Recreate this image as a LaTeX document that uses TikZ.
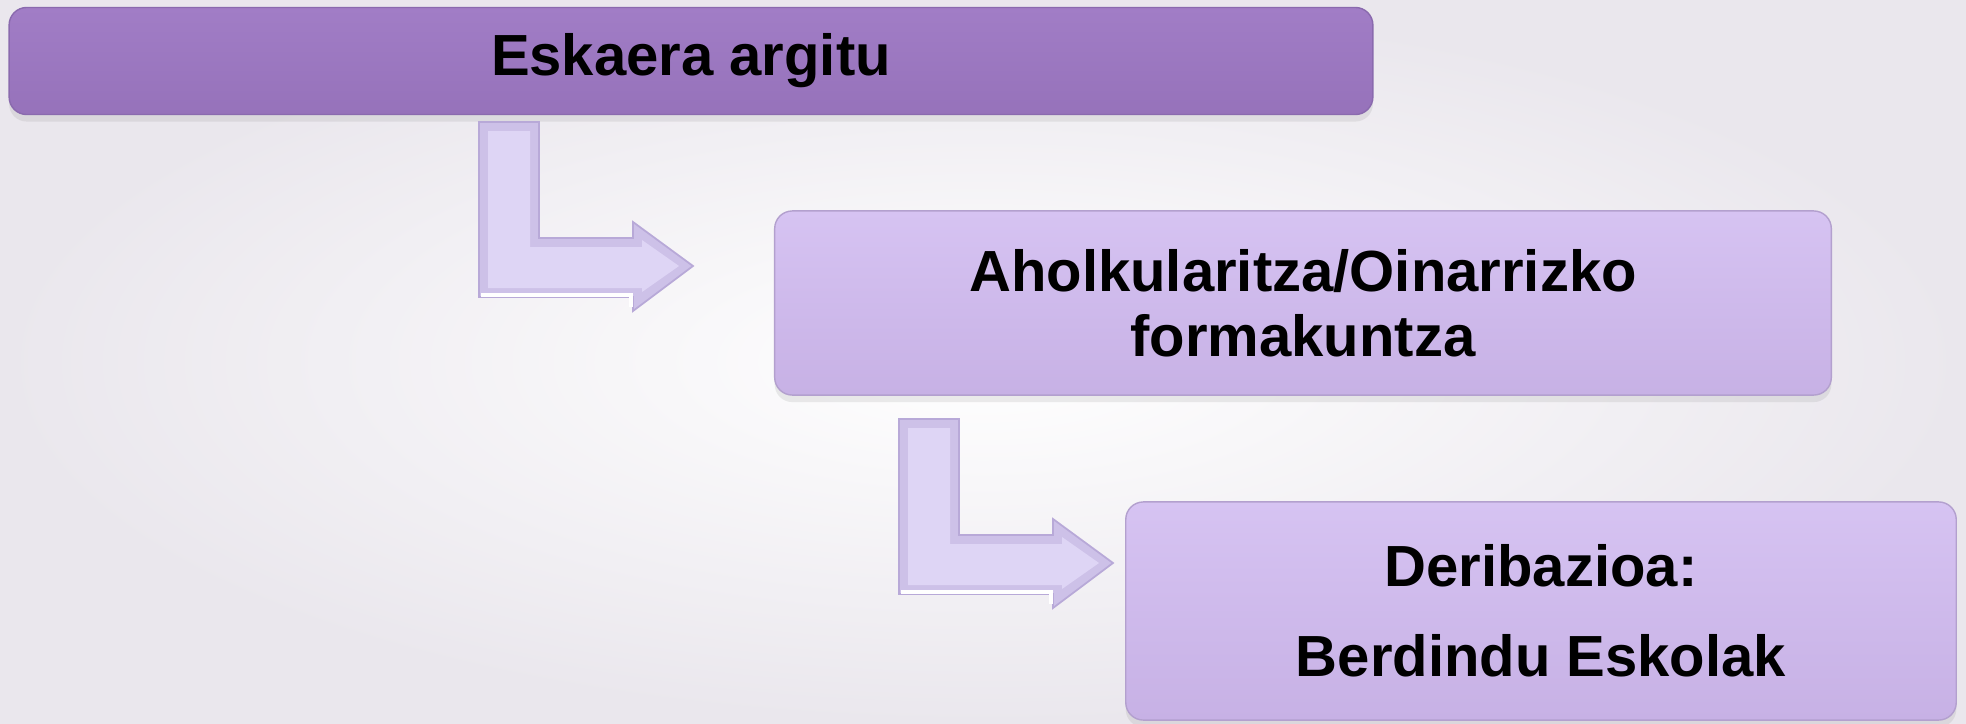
\documentclass[tikz,border=0pt]{standalone}
\usepackage{fontspec}
\setmainfont{Liberation Sans}
\usetikzlibrary{shadows}

\definecolor{bgedge}{HTML}{EAE7ED}
\definecolor{darktop}{HTML}{A17DC6}
\definecolor{darkbot}{HTML}{9672BA}
\definecolor{darkline}{HTML}{8A6AAE}
\definecolor{lighttop}{HTML}{D6C3F2}
\definecolor{lightbot}{HTML}{C7B1E5}
\definecolor{lightline}{HTML}{B3A0CE}
\definecolor{arrowface}{HTML}{DED5F5}
\definecolor{arrowbevel}{HTML}{CDC1E8}
\definecolor{arrowline}{HTML}{B8A9D8}

\begin{document}
\begin{tikzpicture}[
        x=0.01cm, y=-0.01cm,
        stepbox/.style={rectangle, rounded corners=5pt, align=center, inner sep=0,
            font=\fontsize{16.5}{18.5}\selectfont\bfseries,
            drop shadow={opacity=0.15, shadow xshift=0pt, shadow yshift=-2pt}},
        darkbox/.style={stepbox, draw=darkline, top color=darktop, bottom color=darkbot},
        lightbox/.style={stepbox, draw=lightline, top color=lighttop, bottom color=lightbot},
        bentarrow/.style={fill=arrowbevel, draw=arrowline, line width=0.5pt, line join=miter},
        arrowinner/.style={fill=arrowface}
    ]

        % page and background
        \useasboundingbox (0,0) rectangle (1966,724);
        \shade[inner color=white, outer color=bgedge] (0,0) rectangle (1966,724);

        % Steps
        \node[darkbox, minimum width=13.63cm, minimum height=1.07cm] (request) at (691,61) {Eskaera argitu};
        \node[lightbox, minimum width=10.56cm, minimum height=1.84cm] (advice) at (1303,303) {Aholkularitza/Oinarrizko\\formakuntza};
        \node[lightbox, minimum width=8.30cm, minimum height=2.18cm] (referral) at (1541,611) {Deribazioa:\\[7pt]Berdindu Eskolak};

        % Bent arrows between the steps
        \foreach \dx/\dy in {0/0, 420/297}{
            \begin{scope}[shift={(\dx,\dy)}]
                \draw[bentarrow] (479,122) -- (539,122) -- (539,238) -- (633,238) -- (633,222)
                    -- (693,266) -- (633,311) -- (633,297) -- (479,297) -- cycle;
                \fill[arrowinner] (488,131) -- (530,131) -- (530,247) -- (642,247) -- (642,240)
                    -- (679,266) -- (642,292) -- (642,288) -- (488,288) -- cycle;
                \draw[white, line width=1pt] (481,295) -- (631,295) -- (631,307);
            \end{scope}
        }

    \end{tikzpicture}
\end{document}
